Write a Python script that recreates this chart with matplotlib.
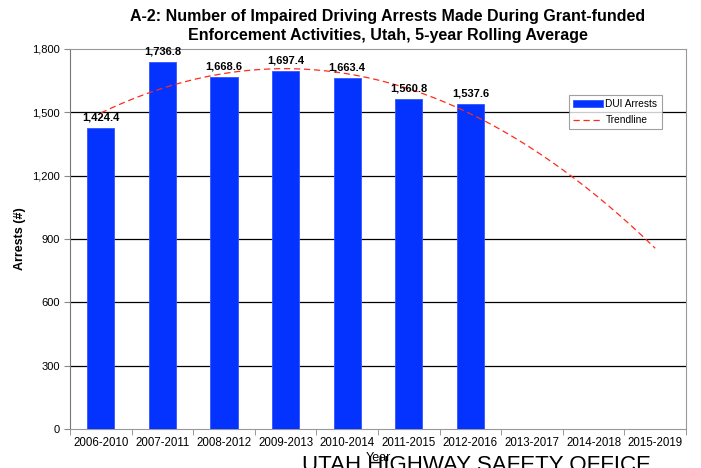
import numpy as np
import matplotlib
matplotlib.use("Agg")
import matplotlib.pyplot as plt
from matplotlib.ticker import FuncFormatter

# data
years = ['2006-2010', '2007-2011', '2008-2012', '2009-2013', '2010-2014',
         '2011-2015', '2012-2016', '2013-2017', '2014-2018', '2015-2019']
arrests = [1424.4, 1736.8, 1668.6, 1697.4, 1663.4, 1560.8, 1537.6]
yticks = [0, 300, 600, 900, 1200, 1500, 1800]

plt.rcParams['font.family'] = ['Liberation Sans', 'DejaVu Sans']

fig = plt.figure(figsize=(7.01, 4.68), dpi=100)
ax = fig.add_axes([0.0999, 0.0833, 0.8787, 0.812])

xb = np.arange(len(arrests))
bars = ax.bar(xb, arrests, width=0.44, color='#0433FF', edgecolor='#3355FF',
              linewidth=0.6, label='DUI Arrests', zorder=3)
for xi, v in zip(xb, arrests):
    ax.annotate(f'{v:,.1f}', (xi, v), xytext=(0, 4), textcoords='offset points',
                ha='center', va='bottom', fontsize=8, fontweight='bold', zorder=5)

# 2nd order polynomial trendline (like excel)
coef = np.polyfit(xb, arrests, 2)
xt = np.linspace(0, len(years) - 1, 200)
trend, = ax.plot(xt, np.polyval(coef, xt), color='#FF2A1A', linestyle=(0, (5, 3)),
                 linewidth=0.9, label='Trendline', zorder=4)

ax.set_xlim(-0.5, len(years) - 0.5)
ax.set_ylim(0, 1800)
ax.set_yticks(yticks)
ax.yaxis.set_major_formatter(FuncFormatter(lambda v, p: f'{v:,.0f}'))
for y in yticks[1:-1]:
    ax.axhline(y, color='black', linewidth=0.9, zorder=1)

ax.set_xticks(np.arange(len(years)))
ax.set_xticklabels(years, fontsize=8.3)
ax.set_xticks(np.arange(len(years) + 1) - 0.5, minor=True)
ax.tick_params(axis='x', which='major', length=0, pad=6)
ax.tick_params(axis='x', which='minor', length=4, color='#888888')
ax.tick_params(axis='y', labelsize=8, length=4, color='#888888')

for s in ['top', 'right', 'bottom']:
    ax.spines[s].set_color('#999999')
ax.spines['left'].set_color('#777777')

ax.set_ylabel('Arrests (#)', fontsize=9, fontweight='bold', labelpad=4)
ax.set_xlabel('Year', fontsize=9, labelpad=2)

fig.suptitle('A-2: Number of Impaired Driving Arrests Made During Grant-funded\n'
             'Enforcement Activities, Utah, 5-year Rolling Average',
             x=0.553, y=0.98, fontsize=11.5, fontweight='bold', linespacing=1.3)

leg = ax.legend([bars, trend], ['DUI Arrests', 'Trendline'],
                loc='upper left', bbox_to_anchor=(0.81, 0.879), fontsize=7.3,
                frameon=True, fancybox=False, edgecolor='#888888',
                handlelength=3, handleheight=0.6, borderpad=0.4,
                labelspacing=0.6, handletextpad=0.2, borderaxespad=0)
leg.get_frame().set_linewidth(0.8)

fig.text(0.68, 0.028, 'UTAH HIGHWAY SAFETY OFFICE', ha='center', va='top',
         fontsize=16, family=['Liberation Sans', 'DejaVu Sans'])

fig.savefig('out.png', dpi=100)
